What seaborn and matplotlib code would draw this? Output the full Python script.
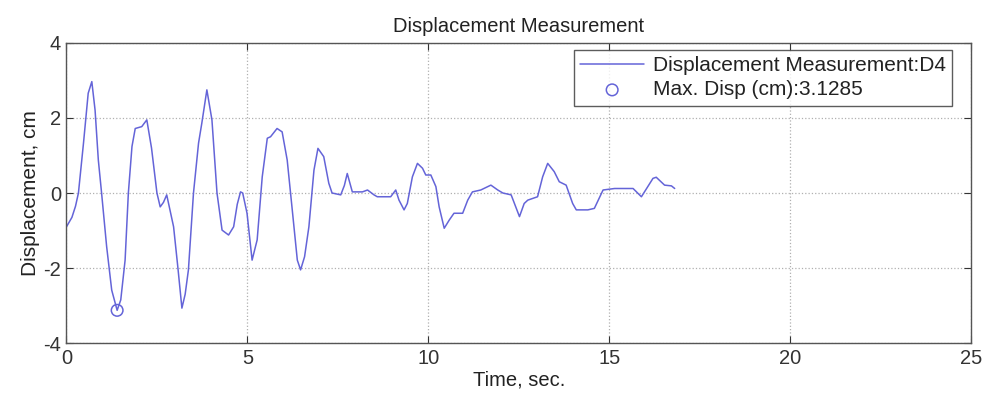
import numpy as np
import pandas as pd
import matplotlib
matplotlib.use("Agg")
import matplotlib.pyplot as plt
import seaborn as sns

# ==========================
# Data
# ==========================

time_s = [0.00, 0.15, 0.25, 0.33, 0.47, 0.60, 0.70, 0.79, 0.88, 0.97,
          1.11, 1.25, 1.40, 1.50, 1.62, 1.71, 1.81, 1.90, 2.08, 2.22,
          2.35, 2.50, 2.59, 2.68, 2.77, 2.96, 3.08, 3.19, 3.28, 3.37,
          3.51, 3.65, 3.74, 3.88, 4.02, 4.16, 4.30, 4.48, 4.62, 4.72,
          4.81, 4.87, 4.99, 5.13, 5.27, 5.41, 5.55, 5.64, 5.82, 5.96,
          6.10, 6.24, 6.38, 6.47, 6.58, 6.70, 6.84, 6.95, 7.11, 7.25,
          7.34, 7.58, 7.68, 7.76, 7.90, 8.18, 8.32, 8.50, 8.59, 8.96,
          9.10, 9.19, 9.33, 9.42, 9.56, 9.70, 9.84, 9.93, 10.07, 10.21,
          10.30, 10.44, 10.58, 10.71, 10.95, 11.09, 11.22, 11.45, 11.73, 11.92,
          12.06, 12.29, 12.52, 12.65, 12.75, 13.02, 13.16, 13.30, 13.48, 13.62,
          13.81, 13.99, 14.09, 14.41, 14.59, 14.83, 15.15, 15.66, 15.89, 16.21,
          16.30, 16.53, 16.72, 16.81]

disp_cm = [-0.90, -0.65, -0.35, 0.00, 1.33, 2.66, 2.97, 2.21, 0.88, 0.00,
           -1.43, -2.59, -3.1285, -2.85, -1.79, 0.00, 1.24, 1.72, 1.77, 1.95,
           1.20, 0.00, -0.37, -0.25, -0.05, -0.90, -2.00, -3.07, -2.70, -2.05,
           0.00, 1.33, 1.86, 2.75, 1.95, 0.00, -0.99, -1.12, -0.90, -0.30,
           0.03, 0.00, -0.54, -1.79, -1.25, 0.43, 1.46, 1.50, 1.72, 1.63,
           0.88, -0.45, -1.79, -2.05, -1.70, -0.90, 0.61, 1.19, 0.97, 0.26,
           0.00, -0.05, 0.20, 0.52, 0.03, 0.03, 0.08, -0.05, -0.10, -0.10,
           0.08, -0.19, -0.45, -0.28, 0.43, 0.79, 0.66, 0.48, 0.48, 0.17,
           -0.37, -0.94, -0.72, -0.54, -0.54, -0.19, 0.03, 0.08, 0.21, 0.08,
           0.00, -0.05, -0.63, -0.28, -0.19, -0.10, 0.43, 0.79, 0.57, 0.30,
           0.21, -0.28, -0.45, -0.45, -0.41, 0.08, 0.12, 0.12, -0.10, 0.39,
           0.42, 0.21, 0.19, 0.12]

x_ticks = [0, 5, 10, 15, 20, 25]
y_ticks = [-4, -2, 0, 2, 4]

df = pd.DataFrame({'Time': time_s, 'Disp': disp_cm})

# maximum absolute displacement
i_max = int(np.argmax(np.abs(df['Disp'].values)))
df_max = df.iloc[[i_max]]
max_disp = abs(df['Disp'].iloc[i_max])

# ==========================
# Plot
# ==========================

sns.set_style('ticks')
plt.rcParams['font.family'] = ['Liberation Sans', 'DejaVu Sans']
plt.rcParams['axes.unicode_minus'] = False

line_color = '#6464d8'
txt_color = '#222222'

fig = plt.figure(figsize=(9.85, 4.01), dpi=100)
ax = fig.add_axes([0.0675, 0.1446, 0.9183, 0.7482])

sns.lineplot(
    data=df,
    x='Time',
    y='Disp',
    color=line_color,
    linewidth=1.1,
    sort=False,
    label='Displacement Measurement:D4',
    ax=ax
)

sns.scatterplot(
    data=df_max,
    x='Time',
    y='Disp',
    marker='o',
    s=70,
    facecolor='none',
    edgecolor=line_color,
    linewidth=1.1,
    label='Max. Disp (cm):%.4f' % max_disp,
    ax=ax
)

ax.set_xlim(0, 25)
ax.set_ylim(-4, 4)
ax.set_xticks(x_ticks)
ax.set_yticks(y_ticks)
ax.tick_params(direction='in', length=5, width=0.8, labelsize=14.5,
               colors='#333333', top=True, right=True, pad=4)
ax.tick_params(labeltop=False, labelright=False)
ax.grid(True, linestyle=':', color='#b0b0b0', linewidth=0.9)

for sp in ax.spines.values():
    sp.set_visible(True)
    sp.set_color('#555555')
    sp.set_linewidth(1.0)

ax.set_xlabel('Time, sec.', fontsize=14.5, color=txt_color, labelpad=2)
ax.set_ylabel('Displacement, cm', fontsize=15, color=txt_color, labelpad=2)
ax.set_title('Displacement Measurement', fontsize=14.5, color=txt_color, pad=8)

leg = ax.legend(
    loc='upper right',
    bbox_to_anchor=(0.979, 0.977),
    borderaxespad=0,
    fontsize=15,
    frameon=True,
    fancybox=False,
    handlelength=3.1,
    handletextpad=0.4,
    labelspacing=0.25,
    borderpad=0.3
)
leg.get_frame().set_edgecolor('#333333')
leg.get_frame().set_linewidth(1.0)
for t in leg.get_texts():
    t.set_color(txt_color)

fig.savefig('out.png', dpi=100)
